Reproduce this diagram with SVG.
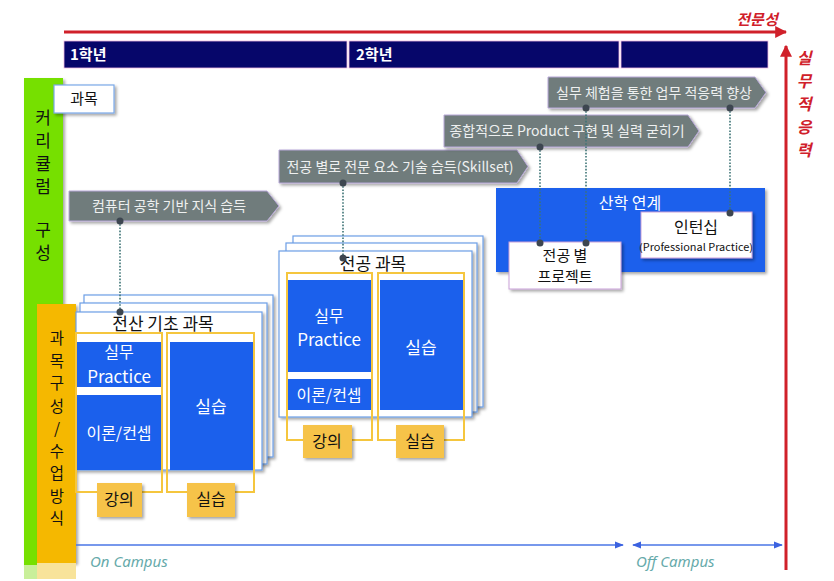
<svg xmlns="http://www.w3.org/2000/svg" width="834" height="581" viewBox="0 0 834 581">
<defs>
<style>
.k{font-family:"Noto Sans CJK KR","Noto Sans",sans-serif}
.yr{font-size:15px;font-weight:bold;fill:#fff}
.tag{fill:#6f7c7c;stroke:#b9a8d8;stroke-width:1}
.tagt{font-size:14px;fill:#eef0f0;text-anchor:middle}
.card{fill:#fff;stroke:#6d9fe6;stroke-width:1.2}
.blue{fill:#1b60ec}
.wt{fill:#fff;text-anchor:middle;font-size:16px}
.yb{fill:none;stroke:#f5c63e;stroke-width:2}
.lab{fill:#f6c34a}
.lt{fill:#111;font-size:16px;text-anchor:middle}
.vt{font-size:17px;fill:#111;text-anchor:middle}
.vt2{font-size:15.5px;fill:#111;text-anchor:middle}
.dot{fill:#3d4650}
.dl{stroke:#3e7476;stroke-width:1.6;stroke-dasharray:1.6 1.6;fill:none}
.camp{font-family:"Noto Sans","Open Sans",sans-serif;font-style:italic;font-size:15px;fill:#66aaaa}
</style>
<filter id="sh" x="-10%" y="-10%" width="130%" height="130%"><feDropShadow dx="2" dy="2" stdDeviation="1.5" flood-color="#000" flood-opacity="0.35"/></filter>
<marker id="ar" viewBox="0 0 10 10" refX="9" refY="5" markerWidth="7" markerHeight="7" orient="auto-start-reverse"><path d="M0,1 L10,5 L0,9 z" fill="#3b62e0"/></marker>
<marker id="rr" viewBox="0 0 10 10" refX="9" refY="5" markerWidth="4" markerHeight="4" orient="auto"><path d="M0,0 L10,5 L0,10 z" fill="#d0202a"/></marker>
</defs>
<rect width="834" height="581" fill="#fff"/>

<g id="axes">
<line x1="64" y1="32" x2="786" y2="32" stroke="#d0202a" stroke-width="3" marker-end="url(#rr)"/>
<text x="757" y="25" class="k" font-size="15" font-weight="bold" font-style="italic" fill="#d0202a" text-anchor="middle">전문성</text>
<line x1="786" y1="570" x2="786" y2="46" stroke="#d0202a" stroke-width="3" marker-end="url(#rr)"/>
<text class="k" font-size="16" font-weight="bold" font-style="italic" fill="#d0202a" text-anchor="middle"><tspan x="804" y="64">실</tspan><tspan x="804" y="87">무</tspan><tspan x="804" y="110">적</tspan><tspan x="804" y="133">응</tspan><tspan x="804" y="156">력</tspan></text>
</g>

<g id="years">
<rect x="64" y="41" width="283" height="27" fill="#06066a" stroke="#f0b8e0" stroke-width="0.8"/>
<rect x="349" y="41" width="270" height="27" fill="#06066a" stroke="#f0b8e0" stroke-width="0.8"/>
<rect x="621" y="41" width="147" height="27" fill="#06066a" stroke="#f0b8e0" stroke-width="0.8"/>
<text x="70" y="60" class="k yr">1학년</text>
<text x="356" y="60" class="k yr">2학년</text>
</g>

<g id="side-curriculum">
<rect x="24" y="78" width="39" height="487" fill="#76e000" filter="url(#sh)"/>
<rect x="24" y="565" width="52" height="14" fill="#c9ef9a"/>
<text class="k vt"><tspan x="43" y="124">커</tspan><tspan x="43" y="147">리</tspan><tspan x="43" y="170">큘</tspan><tspan x="43" y="193">럼</tspan><tspan x="43" y="236">구</tspan><tspan x="43" y="259">성</tspan></text>
</g>
<g id="subject-label">
<rect x="54" y="85" width="60" height="28" fill="#fff" stroke="#7aa8e8" stroke-width="1.2" filter="url(#sh)"/>
<text x="84" y="104" class="k" font-size="15" fill="#111" text-anchor="middle">과목</text>
</g>
<g id="side-method">
<rect x="37" y="304" width="39" height="259" fill="#f5b800" filter="url(#sh)"/>
<rect x="37" y="563" width="39" height="16" fill="#f8e39a"/>
<text class="k vt2"><tspan x="57" y="344">과</tspan><tspan x="57" y="366.5">목</tspan><tspan x="57" y="389">구</tspan><tspan x="57" y="411.5">성</tspan><tspan x="57" y="434">/</tspan><tspan x="57" y="456.5">수</tspan><tspan x="57" y="479">업</tspan><tspan x="57" y="501.5">방</tspan><tspan x="57" y="524">식</tspan></text>
</g>

<g id="tag1"><polygon class="tag" points="69,191 267,191 279,206 267,221 69,221" filter="url(#sh)"/><text x="169" y="211" class="k tagt">컴퓨터 공학 기반 지식 습득</text></g>
<g id="tag2"><polygon class="tag" points="279,150 517,150 528,166.5 517,183 279,183" filter="url(#sh)"/><text x="400" y="172" class="k tagt">전공 별로 전문 요소 기술 습득(Skillset)</text></g>
<g id="tag3"><polygon class="tag" points="444,115 688,115 699,131 688,147 444,147" filter="url(#sh)"/><text x="567" y="136" class="k tagt">종합적으로 Product 구현 및 실력 굳히기</text></g>
<g id="tag4"><polygon class="tag" points="548,77 755,77 766,92.5 755,108 548,108" filter="url(#sh)"/><text x="654" y="98" class="k tagt">실무 체험을 통한 업무 적응력 향상</text></g>

<g id="basic-courses">
<rect class="card" x="84" y="295" width="189" height="162" filter="url(#sh)"/>
<rect class="card" x="80" y="303" width="187" height="161" filter="url(#sh)"/>
<rect class="card" x="76" y="312" width="186" height="158" filter="url(#sh)"/>
<text x="163" y="330" class="k" font-size="17" fill="#111" text-anchor="middle">전산 기초 과목</text>
<rect class="yb" x="76" y="333" width="86" height="159"/>
<rect class="yb" x="167" y="333" width="87" height="159"/>
<rect class="blue" x="77" y="342" width="84" height="45"/>
<rect class="blue" x="77" y="395" width="84" height="75"/>
<rect class="blue" x="170" y="342" width="83" height="128"/>
<text x="119" y="358" class="k wt">실무</text>
<text x="119" y="383" class="k wt" style="font-size:17px">Practice</text>
<text x="119" y="439" class="k wt">이론/컨셉</text>
<text x="211" y="413" class="k wt" style="font-size:17px">실습</text>
<rect class="lab" x="97" y="483" width="45" height="34" filter="url(#sh)"/>
<text x="119" y="505" class="k lt">강의</text>
<rect class="lab" x="187" y="483" width="48" height="34" filter="url(#sh)"/>
<text x="211" y="505" class="k lt">실습</text>
</g>

<g id="major-courses">
<rect class="card" x="293" y="236" width="190" height="171" filter="url(#sh)"/>
<rect class="card" x="286" y="243" width="191" height="169" filter="url(#sh)"/>
<rect class="card" x="279" y="251" width="193" height="166" filter="url(#sh)"/>
<text x="373" y="270" class="k" font-size="17" fill="#111" text-anchor="middle">전공 과목</text>
<rect class="yb" x="287" y="273" width="85" height="167"/>
<rect class="yb" x="378" y="273" width="86" height="167"/>
<rect class="blue" x="288" y="280" width="83" height="92"/>
<rect class="blue" x="288" y="379" width="83" height="31"/>
<rect class="blue" x="380" y="280" width="83" height="130"/>
<text x="329" y="322" class="k wt">실무</text>
<text x="329" y="346" class="k wt" style="font-size:17px">Practice</text>
<text x="329" y="401" class="k wt">이론/컨셉</text>
<text x="421" y="354" class="k wt" style="font-size:17px">실습</text>
<rect class="lab" x="303" y="425" width="49" height="33" filter="url(#sh)"/>
<text x="327" y="447" class="k lt">강의</text>
<rect class="lab" x="396" y="425" width="48" height="33" filter="url(#sh)"/>
<text x="420" y="447" class="k lt">실습</text>
</g>

<g id="industry">
<rect x="496" y="188" width="269" height="84" fill="#1b60ec" filter="url(#sh)"/>
<text x="630" y="209" class="k" font-size="16" fill="#fff" text-anchor="middle">산학 연계</text>
</g>
<g id="project">
<rect x="509" y="242" width="112" height="47" fill="#fff" stroke="#c9a0d8" stroke-width="1" filter="url(#sh)"/>
<text x="565" y="261" class="k" font-size="15" fill="#111" text-anchor="middle">전공 별</text>
<text x="565" y="282" class="k" font-size="15" fill="#111" text-anchor="middle">프로젝트</text>
</g>
<g id="internship">
<rect x="641" y="212" width="111" height="46" fill="#fff" stroke="#c9a0d8" stroke-width="1" filter="url(#sh)"/>
<text x="696" y="233" class="k" font-size="16" fill="#111" text-anchor="middle">인턴십</text>
<text x="696" y="251" class="k" font-size="10" fill="#111" text-anchor="middle" textLength="114" lengthAdjust="spacingAndGlyphs">(Professional Practice)</text>
</g>

<g id="connectors">
<line class="dl" x1="120" y1="221" x2="120" y2="312"/><circle class="dot" cx="120" cy="221" r="3.5"/><circle class="dot" cx="120" cy="312" r="3.5"/>
<line class="dl" x1="343" y1="183" x2="343" y2="258"/><circle class="dot" cx="343" cy="183" r="3.5"/><circle class="dot" cx="343" cy="258" r="3.5"/>
<line class="dl" x1="540" y1="147" x2="540" y2="243"/><circle class="dot" cx="540" cy="147" r="3.5"/><circle class="dot" cx="540" cy="243" r="3.5"/>
<line class="dl" x1="586" y1="108" x2="586" y2="243"/><circle class="dot" cx="586" cy="108" r="3.5"/><circle class="dot" cx="586" cy="243" r="3.5"/>
<line class="dl" x1="730" y1="108" x2="730" y2="213"/><circle class="dot" cx="730" cy="108" r="3.5"/><circle class="dot" cx="730" cy="213" r="3.5"/>
</g>

<g id="campus">
<line x1="76" y1="545" x2="623" y2="545" stroke="#4a76e6" stroke-width="1.3" marker-end="url(#ar)"/>
<line x1="633" y1="545" x2="782" y2="545" stroke="#4a76e6" stroke-width="1.3" marker-start="url(#ar)" marker-end="url(#ar)"/>
<text x="90" y="567" class="camp">On Campus</text>
<text x="636" y="567" class="camp">Off Campus</text>
</g>
</svg>
